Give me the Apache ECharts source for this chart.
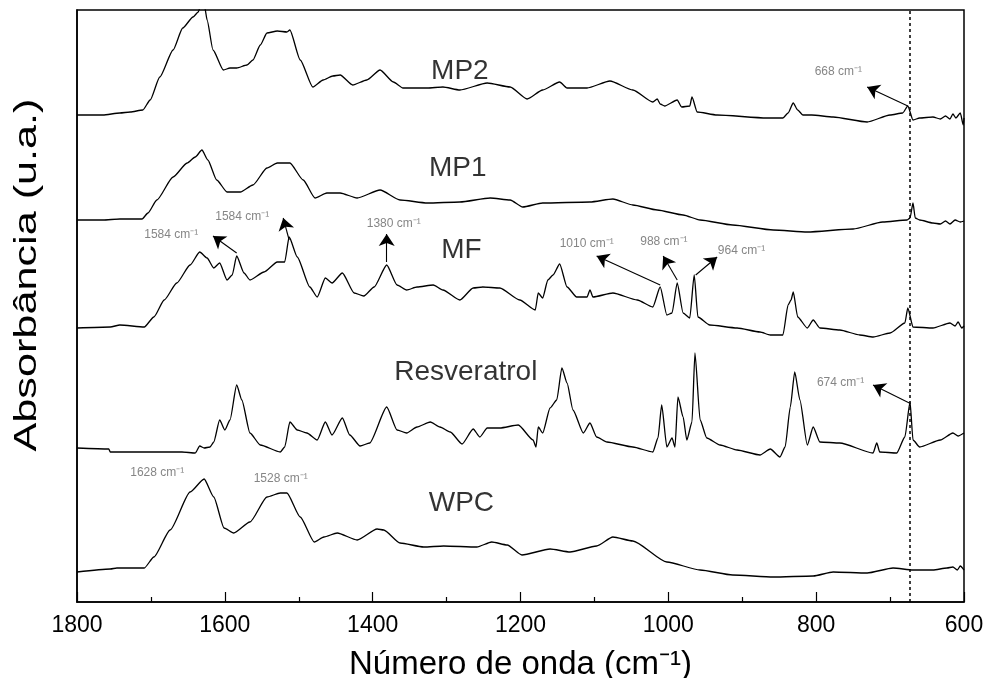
<!DOCTYPE html>
<html><head><meta charset="utf-8">
<script src="https://cdn.jsdelivr.net/npm/echarts@6/dist/echarts.min.js"></script>
<style>html,body{margin:0;padding:0;background:#fff}#c{width:991px;height:678px}</style>
</head><body><div id="c"></div>
<script>
// Wavenumber (cm-1) and absorbance (a.u., stacked offsets as shown)
const MP2 = [[1800,4.87],[1765,4.87],[1742,4.89],[1728,4.90],[1711,4.92],[1701,5.02],[1688,5.25],[1670,5.52],[1657,5.74],[1643,5.85],[1636,5.90],[1632,5.98],[1627,5.94],[1624,5.82],[1616,5.52],[1602,5.32],[1593,5.34],[1584,5.34],[1570,5.37],[1562,5.42],[1552,5.57],[1543,5.69],[1529,5.71],[1516,5.70],[1512,5.72],[1498,5.42],[1481,5.15],[1467,5.22],[1454,5.26],[1444,5.27],[1427,5.17],[1408,5.22],[1390,5.32],[1372,5.20],[1359,5.14],[1326,5.14],[1305,5.15],[1282,5.12],[1245,5.19],[1214,5.15],[1191,5.03],[1170,5.12],[1147,5.20],[1137,5.14],[1110,5.14],[1079,5.21],[1048,5.12],[1021,5.00],[1015,5.03],[1011,4.98],[1005,4.96],[988,5.02],[982,4.95],[971,4.96],[968,5.05],[961,4.90],[934,4.87],[867,4.84],[845,4.84],[838,4.89],[831,4.99],[825,4.92],[818,4.87],[806,4.87],[777,4.85],[731,4.80],[700,4.87],[683,4.89],[676,4.96],[669,4.82],[660,4.84],[642,4.85],[632,4.83],[625,4.86],[619,4.83],[615,4.88],[611,4.84],[605,4.89],[601,4.77],[600,4.84]];
const MP1 = [[1800,3.82],[1765,3.82],[1742,3.83],[1712,3.83],[1704,3.89],[1692,4.02],[1670,4.25],[1651,4.39],[1640,4.45],[1631,4.52],[1623,4.42],[1611,4.22],[1597,4.10],[1579,4.10],[1562,4.17],[1543,4.34],[1529,4.39],[1512,4.39],[1494,4.22],[1478,4.04],[1462,4.09],[1444,4.09],[1421,4.04],[1390,4.12],[1363,4.02],[1326,3.99],[1282,4.00],[1241,4.04],[1214,4.02],[1197,3.95],[1170,3.99],[1106,4.00],[1075,4.03],[1048,3.97],[1015,3.92],[980,3.87],[957,3.82],[913,3.77],[858,3.72],[812,3.70],[750,3.73],[710,3.80],[677,3.82],[673,3.84],[669,3.99],[666,3.84],[660,3.82],[642,3.79],[632,3.78],[625,3.81],[619,3.78],[612,3.82],[605,3.80],[600,3.81]];
const MF = [[1800,2.74],[1755,2.75],[1742,2.77],[1709,2.75],[1696,2.85],[1682,3.02],[1665,3.19],[1647,3.37],[1634,3.50],[1624,3.44],[1615,3.34],[1607,3.39],[1597,3.22],[1590,3.27],[1584,3.46],[1574,3.29],[1566,3.22],[1547,3.30],[1529,3.40],[1519,3.40],[1513,3.65],[1502,3.45],[1485,3.15],[1475,3.05],[1464,3.24],[1455,3.19],[1441,3.29],[1425,3.09],[1412,3.06],[1398,3.15],[1381,3.37],[1367,3.17],[1354,3.12],[1340,3.15],[1318,3.17],[1305,3.12],[1282,3.02],[1264,3.14],[1251,3.15],[1228,3.14],[1201,3.02],[1180,2.92],[1176,3.09],[1170,3.04],[1163,3.22],[1156,3.27],[1147,3.38],[1137,3.15],[1124,3.05],[1110,3.05],[1106,3.12],[1102,3.05],[1075,3.09],[1042,3.02],[1021,2.95],[1011,3.15],[1002,2.87],[995,2.89],[988,3.19],[980,2.89],[971,2.84],[965,3.27],[960,2.85],[944,2.77],[907,2.74],[876,2.70],[862,2.67],[845,2.67],[838,2.97],[834,3.02],[831,3.10],[825,2.85],[812,2.74],[804,2.82],[795,2.74],[768,2.72],[741,2.67],[723,2.65],[700,2.69],[680,2.79],[676,2.94],[669,2.75],[642,2.74],[619,2.79],[612,2.76],[608,2.80],[603,2.74],[600,2.76]];
const RESVERATROL = [[1800,1.54],[1757,1.53],[1755,1.50],[1658,1.50],[1640,1.49],[1634,1.56],[1628,1.54],[1620,1.55],[1615,1.60],[1607,1.82],[1600,1.72],[1593,1.82],[1584,2.17],[1577,2.02],[1566,1.69],[1552,1.57],[1525,1.50],[1519,1.55],[1512,1.80],[1502,1.72],[1489,1.69],[1475,1.62],[1464,1.80],[1455,1.67],[1441,1.84],[1431,1.67],[1417,1.56],[1404,1.59],[1381,1.95],[1367,1.72],[1354,1.69],[1340,1.75],[1322,1.80],[1309,1.75],[1295,1.70],[1279,1.58],[1264,1.73],[1255,1.65],[1245,1.74],[1228,1.74],[1203,1.77],[1183,1.62],[1179,1.55],[1176,1.75],[1170,1.69],[1160,1.94],[1151,2.02],[1144,2.34],[1137,2.19],[1129,1.92],[1115,1.69],[1106,1.79],[1097,1.65],[1083,1.60],[1048,1.55],[1021,1.50],[1014,1.64],[1009,1.97],[1002,1.55],[995,1.64],[991,1.55],[987,2.05],[980,1.85],[975,1.62],[968,1.80],[964,2.49],[957,1.82],[948,1.64],[930,1.57],[907,1.52],[876,1.47],[862,1.53],[849,1.45],[842,1.55],[835,1.95],[829,2.30],[822,2.02],[812,1.57],[804,1.75],[795,1.60],[768,1.59],[723,1.49],[718,1.59],[714,1.50],[691,1.49],[680,1.65],[673,2.00],[669,1.62],[660,1.55],[632,1.62],[615,1.69],[608,1.66],[600,1.69]];
const WPC = [[1800,0.30],[1755,0.33],[1746,0.34],[1709,0.34],[1696,0.45],[1674,0.72],[1647,1.10],[1628,1.23],[1615,1.05],[1601,0.74],[1588,0.69],[1566,0.80],[1543,1.05],[1525,1.09],[1516,1.09],[1498,0.85],[1479,0.60],[1466,0.65],[1448,0.69],[1421,0.62],[1394,0.73],[1385,0.72],[1363,0.59],[1331,0.55],[1304,0.56],[1259,0.55],[1239,0.60],[1218,0.57],[1198,0.47],[1160,0.53],[1133,0.50],[1097,0.56],[1075,0.65],[1048,0.61],[1002,0.40],[957,0.32],[913,0.27],[858,0.25],[804,0.26],[777,0.30],[731,0.29],[696,0.34],[669,0.32],[642,0.32],[623,0.34],[615,0.35],[609,0.32],[605,0.36],[600,0.32]];

const seriesNames = ['MP2','MP1','MF','Resveratrol','WPC'];
// series name label anchors [wavenumber, absorbance, text]
const nameLabels = [[1282,5.31,'MP2'],[1285,4.34,'MP1'],[1280,3.52,'MF'],[1274,2.30,'Resveratrol'],[1280,0.99,'WPC']];
// peak annotations: [text, textW, textA]
const peakTexts = [['668 cm⁻¹',802,5.30],['1584 cm⁻¹',1709,3.67],['1584 cm⁻¹',1613,3.85],['1380 cm⁻¹',1408,3.78],['1010 cm⁻¹',1147,3.58],['988 cm⁻¹',1038,3.60],['964 cm⁻¹',933,3.51],['674 cm⁻¹',799,2.19],['1628 cm⁻¹',1728,1.29],['1528 cm⁻¹',1561,1.23]];
// arrows: [fromW, fromA, toW, toA]
const peakArrows = [[676,4.96,731,5.15],[1584,3.49,1616,3.66],[1513,3.62,1521,3.84],[1381,3.40,1381,3.68],[1011,3.17,1097,3.46],[988,3.22,1007,3.46],[963,3.27,934,3.45],[674,1.99,723,2.17]];
const refLine = 674;
const xTicks = {min:600, max:1800, step:200};

const FONT = '"Liberation Sans", Arial, sans-serif';
const chart = echarts.init(document.getElementById('c'), null, {renderer:'canvas'});
const lineStyle = {color:'#000', width:1.3};
const allData = [MP2, MP1, MF, RESVERATROL, WPC];
const series = allData.map((d,i)=>({
  name: seriesNames[i], type:'line', data:d, showSymbol:false, symbol:'none',
  smooth:0.2, smoothMonotone:'x',
  lineStyle: lineStyle, animation:false, z:3
}));
series[0].markLine = {
  silent:true, animation:false, symbol:'none',
  label:{show:false},
  lineStyle:{color:'#000', type:[3,3], width:1.5},
  data:[{xAxis: refLine}]
};
series.push({
  type:'line', data:[], animation:false,
  markLine:{
    silent:true, animation:false, symbol:['none','arrow'], symbolSize:12,
    label:{show:false},
    lineStyle:{color:'#000', type:'solid', width:1.1},
    data: peakArrows.map(a=>[{coord:[a[0],a[1]]},{coord:[a[2],a[3]]}])
  }
});
series.push({
  type:'scatter', symbolSize:0, animation:false, silent:true,
  data: peakTexts.map(t=>({value:[t[1],t[2]], name:t[0]})),
  label:{show:true, position:'right', distance:0, formatter:p=>p.name,
    fontFamily:FONT, fontSize:12, color:'#666'}
});
series.push({
  type:'scatter', symbolSize:0, animation:false, silent:true,
  data: nameLabels.map(t=>({value:[t[0],t[1]], name:t[2]})),
  label:{show:true, position:'inside', formatter:p=>p.name,
    fontFamily:FONT, fontSize:28, color:'#000'}
});

chart.setOption({
  backgroundColor:'#fff',
  animation:false,
  grid:{left:77, right:27, top:10, bottom:76, containLabel:false, outerBoundsMode:'none',
    show:true, borderColor:'#000', borderWidth:1.5},
  xAxis:{
    type:'value', min:xTicks.min, max:xTicks.max, interval:xTicks.step, inverse:true,
    axisLine:{show:true, lineStyle:{color:'#000', width:1.5}},
    axisTick:{show:true, inside:true, length:10, lineStyle:{color:'#000', width:1.2}},
    minorTick:{show:true, splitNumber:2, length:5, lineStyle:{color:'#000', width:1.2}},
    splitLine:{show:false},
    axisLabel:{fontFamily:FONT, fontSize:23, color:'#000', margin:12, formatter:v=>String(v)},
    name:'Número de onda (cm⁻¹)', nameLocation:'middle', nameGap:46,
    nameTextStyle:{fontFamily:FONT, fontSize:33, color:'#000'}
  },
  yAxis:{
    type:'value', min:0, max:5.92,
    axisLine:{show:true, lineStyle:{color:'#000', width:1.5}},
    axisTick:{show:false}, axisLabel:{show:false}, splitLine:{show:false}
  },
  graphic:[{
    type:'text', x:27, y:275, rotation:Math.PI/2, scaleX:1.35,
    style:{text:'Absorbância (u.a.)', font:'32px '+FONT, fill:'#000', align:'center', verticalAlign:'middle'}
  }],
  series: series
});
</script></body></html>
